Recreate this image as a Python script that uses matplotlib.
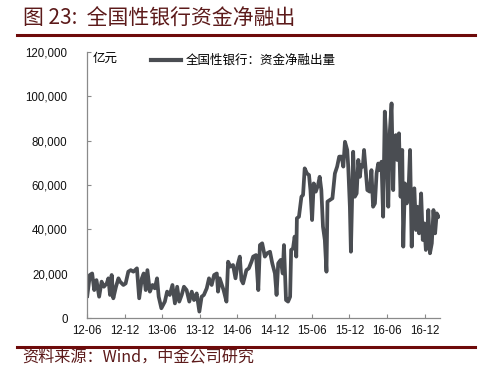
import matplotlib.pyplot as plt
import matplotlib.dates as mdates
import matplotlib.ticker as mticker
import pandas as pd

# weekly-ish readings of the net funding outflow (亿元)
dates = [
    "2012-06-02", "2012-06-15", "2012-06-26", "2012-07-06", "2012-07-17", "2012-07-30",
    "2012-08-11", "2012-08-22", "2012-09-05", "2012-09-13", "2012-09-21", "2012-09-29",
    "2012-10-07", "2012-10-20", "2012-11-01", "2012-11-09", "2012-11-25", "2012-12-06",
    "2012-12-19", "2012-12-31", "2013-01-13", "2013-01-30", "2013-02-10", "2013-02-23",
    "2013-03-04", "2013-03-14", "2013-03-22", "2013-04-03", "2013-04-16", "2013-04-27",
    "2013-05-08", "2013-05-16", "2013-05-29", "2013-06-15", "2013-06-26", "2013-07-09",
    "2013-07-22", "2013-08-03", "2013-08-14", "2013-08-24", "2013-09-05", "2013-09-16",
    "2013-09-29", "2013-10-12", "2013-10-24", "2013-11-04", "2013-11-17", "2013-11-30",
    "2013-12-11", "2013-12-22", "2014-01-05", "2014-01-16", "2014-01-29", "2014-02-10",
    "2014-02-23", "2014-03-01", "2014-03-09", "2014-03-20", "2014-03-28", "2014-04-11",
    "2014-04-19", "2014-04-30", "2014-05-13", "2014-05-25", "2014-06-04", "2014-06-15",
    "2014-06-23", "2014-07-01", "2014-07-17", "2014-07-29", "2014-08-11", "2014-08-19",
    "2014-09-02", "2014-09-13", "2014-09-21", "2014-10-02", "2014-10-15", "2014-10-26",
    "2014-11-09", "2014-11-20", "2014-12-03", "2014-12-11", "2014-12-19", "2014-12-31",
    "2015-01-10", "2015-01-16", "2015-01-26", "2015-02-05", "2015-02-15", "2015-02-20",
    "2015-03-01", "2015-03-09", "2015-03-17", "2015-03-20", "2015-03-30", "2015-04-11",
    "2015-04-19", "2015-04-27", "2015-05-08", "2015-05-18", "2015-05-25", "2015-06-02",
    "2015-06-10", "2015-06-20", "2015-07-01", "2015-07-09", "2015-07-17", "2015-07-25",
    "2015-08-03", "2015-08-11", "2015-08-16", "2015-08-27", "2015-09-09", "2015-09-21",
    "2015-10-02", "2015-10-12", "2015-10-24", "2015-11-01", "2015-11-09", "2015-11-20",
    "2015-11-25", "2015-12-03", "2015-12-08", "2015-12-14", "2015-12-19", "2015-12-27",
    "2016-01-05", "2016-01-13", "2016-01-21", "2016-01-26", "2016-02-04", "2016-02-10",
    "2016-02-18", "2016-02-26", "2016-03-09", "2016-03-17", "2016-03-25", "2016-04-03",
    "2016-04-11", "2016-04-19", "2016-04-27", "2016-05-05", "2016-05-13", "2016-05-21",
    "2016-05-29", "2016-06-07", "2016-06-15", "2016-06-23", "2016-07-01", "2016-07-06",
    "2016-07-14", "2016-07-20", "2016-07-29", "2016-08-06", "2016-08-14", "2016-08-19",
    "2016-08-27", "2016-09-05", "2016-09-13", "2016-09-21", "2016-09-29", "2016-10-07",
    "2016-10-12", "2016-10-20", "2016-10-26", "2016-11-04", "2016-11-14", "2016-11-22",
    "2016-11-29", "2016-12-07", "2016-12-12", "2016-12-19", "2016-12-27", "2017-01-05",
    "2017-01-13", "2017-01-21", "2017-01-29", "2017-02-07",
]
net_outflow = [
    9900, 19400, 20100, 12600, 17100, 9600,
    16400, 14100, 15600, 17900, 10400, 19400,
    8900, 14100, 17900, 16400, 14900, 15600,
    20900, 21600, 20900, 22400, 8900, 17900,
    20100, 12600, 21600, 11900, 14900, 13400,
    17900, 9600, 4400, 7400, 11900, 10400,
    14900, 6600, 14100, 7400, 10400, 14100,
    12600, 7400, 11900, 8100, 11100, 2900,
    9600, 10400, 13400, 17900, 14900, 19400,
    20100, 11900, 17900, 14900, 12600, 7400,
    25400, 23200, 23900, 17900, 23900, 27700,
    17100, 15600, 21600, 22400, 25400, 27700,
    28400, 12600, 32900, 33700, 27700, 29200,
    29900, 24700, 20100, 10400, 24700, 26200,
    20100, 32900, 8100, 7400, 9600, 30700,
    31400, 36700, 27700, 45000, 45700, 54700,
    55500, 67500, 65200, 64500, 57700, 44200,
    60700, 57000, 60000, 63700, 57700, 41200,
    35200, 20900, 52500, 53200, 54000, 65200,
    68300, 72800, 72800, 68300, 79500, 75800,
    68300, 50200, 29900, 54700, 75000, 54700,
    56200, 71300, 63700, 69000, 68300, 75800,
    66700, 57700, 57000, 66700, 50200, 51700,
    65200, 69700, 66700, 70500, 45700, 93100,
    80300, 50200, 84800, 96800, 57700, 81800,
    82500, 71300, 83300, 54700, 75800, 32200,
    60700, 51700, 56200, 75800, 32200, 57700,
    58500, 39700, 50200, 38200, 56200, 35200,
    42700, 30700, 35200, 48700, 29200, 33700,
    48700, 38200, 47200, 45700,
]

series_label = "全国性银行：资金净融出量"
unit_label = "亿元"
title = "图 23:  全国性银行资金净融出"
source = "资料来源：Wind，中金公司研究"

y_ticks = [0, 20000, 40000, 60000, 80000, 100000, 120000]


def main():

    plt.rcParams["font.family"] = ["Liberation Sans", "Noto Sans CJK SC", "DejaVu Sans"]

    x = pd.to_datetime(dates)

    fig = plt.figure(figsize=(5.01, 3.85), dpi=100)
    ax = fig.add_axes([0.1737, 0.174, 0.7046, 0.691])

    ax.plot(x, net_outflow, color="#4a4d52", lw=2.7, label=series_label)

    # axes cosmetics
    ax.set_xlim(pd.Timestamp("2012-06-01"), pd.Timestamp("2017-02-14"))
    ax.set_ylim(0, 120000)
    ax.set_yticks(y_ticks)
    ax.yaxis.set_major_formatter(mticker.StrMethodFormatter("{x:,.0f}"))
    ax.xaxis.set_major_locator(mdates.MonthLocator(bymonth=[6, 12]))
    ax.xaxis.set_major_formatter(mdates.DateFormatter("%y-%m"))

    for side in ["top", "right"]:
        ax.spines[side].set_visible(False)
    for side in ["left", "bottom"]:
        ax.spines[side].set_color("#8a8a8a")
        ax.spines[side].set_linewidth(0.9)
    ax.tick_params(direction="in", length=3, width=0.8, color="#8a8a8a",
                   labelsize=8.3, labelcolor="#111111")
    ax.tick_params(axis="y", pad=14)
    ax.tick_params(axis="x", pad=5)

    ax.text(0.017, 0.977, unit_label, transform=ax.transAxes, fontsize=9,
            ha="left", va="center", family=["Noto Sans CJK SC"])

    leg = ax.legend(loc="center left", bbox_to_anchor=(0.181, 0.968), frameon=False,
                    borderpad=0, borderaxespad=0, handlelength=2.4, handletextpad=0.4,
                    prop={"family": "Noto Sans CJK SC", "size": 9})
    leg.get_lines()[0].set_linewidth(3)

    # title, source and the two rules
    red = "#6e0a0a"
    fig.text(0.046, 0.952, title, fontsize=15, color="#5c1a1a", ha="left", va="center",
             family=["Noto Sans CJK SC", "DejaVu Sans"])
    fig.text(0.044, 0.072, source, fontsize=11.6, color="#5c1a1a", ha="left", va="center",
             family=["Noto Sans CJK SC", "DejaVu Sans"])
    fig.add_artist(plt.Line2D([0.034, 0.948], [0.909, 0.909], color=red, lw=2.2))
    fig.add_artist(plt.Line2D([0.034, 0.948], [0.099, 0.099], color=red, lw=2.2))


if __name__ == "__main__":

    main()

    plt.savefig("out.png", dpi=100)
